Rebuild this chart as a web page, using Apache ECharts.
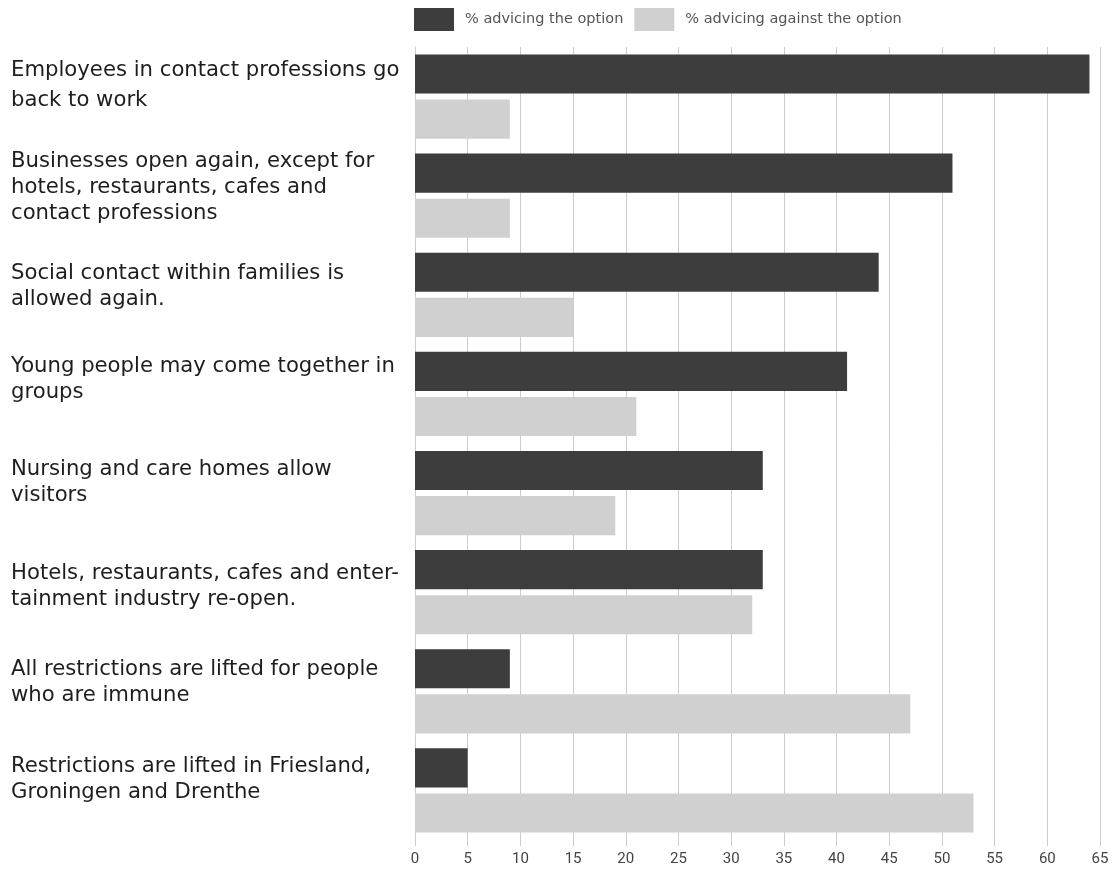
<!DOCTYPE html>
<html>
<head>
<meta charset="utf-8">
<script src="https://cdn.jsdelivr.net/npm/echarts@6/dist/echarts.min.js"></script>
<style>html,body{margin:0;padding:0;background:#fff}#c{width:1114px;height:872px}</style>
</head>
<body>
<div id="c"></div>
<script>
const categories = [
  "Employees in contact professions go\nback to work",
  "Businesses open again, except for\nhotels, restaurants, cafes and\ncontact professions",
  "Social contact within families is\nallowed again.",
  "Young people may come together in\ngroups",
  "Nursing and care homes allow\nvisitors",
  "Hotels, restaurants, cafes and enter-\ntainment industry re-open.",
  "All restrictions are lifted for people\nwho are immune",
  "Restrictions are lifted in Friesland,\nGroningen and Drenthe"
];
const seriesNames = ["% advicing the option", "% advicing against the option"];
const advicing = [64, 51, 44, 41, 33, 33, 9, 5];
const against = [9, 9, 15, 21, 19, 32, 47, 53];

// layout: extra spacer below each label (shifts label block upward by half)
const SPACER = [22, 16, 16, 28, 22, 12, 18, 22];
const FONT = "'DejaVu Sans', 'Verdana', sans-serif";
const rich = {};
SPACER.forEach((h, i) => { rich['s' + i] = {lineHeight: h, fontSize: 2}; });
const labelStyle = {
  align: 'left', fontFamily: FONT, fontSize: 21.2,
  color: '#1e1e1e', lineHeight: 26, verticalAlign: 'middle', rich: rich
};
const catData = categories.map((c, i) => i === 0
  ? {value: c, textStyle: Object.assign({}, labelStyle, {lineHeight: 30})}
  : c);
const chart = echarts.init(document.getElementById('c'), null, {renderer: 'canvas'});
chart.setOption({
  animation: false,
  backgroundColor: '#fff',
  legend: {
    left: 409, top: 3,
    itemWidth: 40, itemHeight: 23, itemGap: 11,
    icon: 'rect',
    textStyle: {fontFamily: FONT, fontSize: 14.5, color: '#555', padding: [0,0,0,6]},
    data: seriesNames
  },
  grid: {left: 415, right: 14, top: 47, bottom: 32, containLabel: false, outerBoundsMode: 'none'},
  xAxis: {
    type: 'value', min: 0, max: 65, interval: 5,
    axisLine: {show: false},
    axisTick: {show: true, length: 6, lineStyle: {color: '#ccc'}},
    splitLine: {show: true, lineStyle: {color: '#ccc', width: 1}},
    axisLabel: {fontFamily: 'Roboto', fontSize: 15, color: '#444', margin: 12}
  },
  yAxis: {
    type: 'category', inverse: true, data: catData,
    axisLine: {show: true, lineStyle: {color: '#ccc'}},
    axisTick: {show: false},
    axisLabel: Object.assign({
      interval: 0, margin: 404,
      formatter: (v, idx) => v + '\n{s' + idx + '| }'
    }, labelStyle)
  },
  series: [
    {name: seriesNames[0], type: 'bar', data: advicing, itemStyle: {color: '#3d3d3d'},
     barCategoryGap: '15%', barGap: '15%'},
    {name: seriesNames[1], type: 'bar', data: against, itemStyle: {color: '#d0d0d0'},
     barCategoryGap: '15%', barGap: '15%'}
  ]
});
</script>
</body>
</html>
